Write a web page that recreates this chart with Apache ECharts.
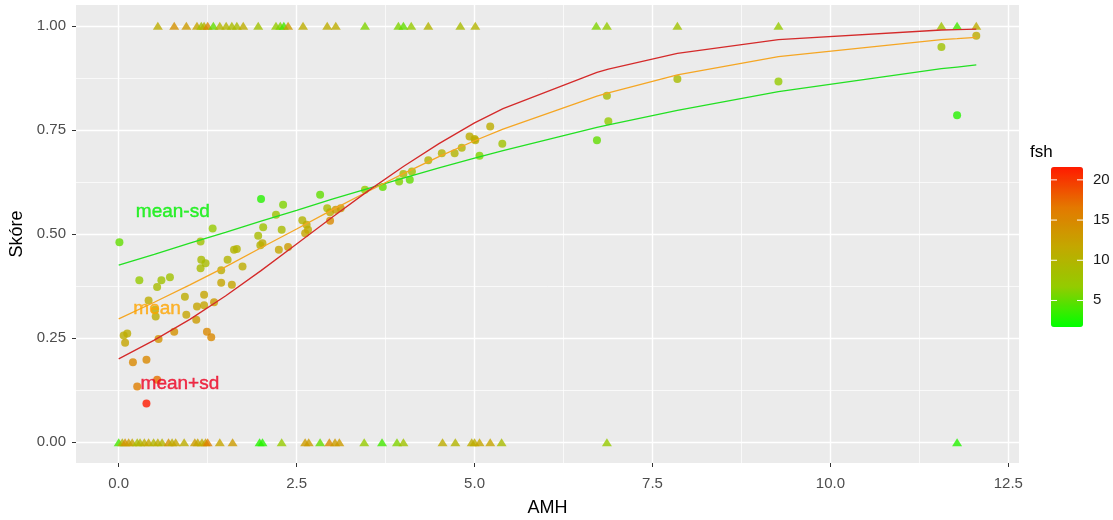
<!DOCTYPE html>
<html lang="en">
<head>
<meta charset="UTF-8">
<title>Skóre vs AMH</title>
<script src="https://cdn.jsdelivr.net/npm/echarts@6/dist/echarts.min.js"></script>
<style>
  html, body { margin: 0; padding: 0; background: #fff; }
  #chart { width: 1113px; height: 520px; }
</style>
</head>
<body>
<div id="chart"></div>
<script>
// circles: [AMH, Skore, fsh]
var dots = [
  [2.00,0.584,3],[0.01,0.480,5],[1.32,0.513,7],[2.03,0.516,8],[1.96,0.496,9],
  [1.15,0.482,8],[1.99,0.473,10],[2.02,0.478,11],[1.62,0.462,10],[1.66,0.464,10],
  [1.16,0.438,9],[1.22,0.430,9],[1.53,0.438,10],[1.15,0.418,9],[1.74,0.422,11],
  [1.44,0.413,11],[0.29,0.389,7],[0.60,0.389,8],[0.72,0.396,8],[0.54,0.373,9],
  [1.44,0.383,12],[1.59,0.378,12],[0.93,0.349,11],[1.20,0.354,12],[0.42,0.340,11],
  [1.10,0.326,12],[1.20,0.329,12],[1.34,0.336,13],[0.51,0.318,11],[0.52,0.302,11],
  [0.95,0.306,12],[1.09,0.294,13],[0.12,0.261,11],[0.07,0.256,11],[0.09,0.239,12],
  [0.56,0.248,14],[0.78,0.265,14],[1.24,0.265,15],[1.30,0.252,15],[0.20,0.192,15],
  [0.39,0.198,15],[0.26,0.134,16],[0.54,0.150,17],[0.39,0.093,21.6],
  [2.31,0.570,6],[2.83,0.594,5],[2.21,0.546,8],[2.29,0.510,9],[2.25,0.462,12],
  [2.38,0.469,13],[2.58,0.533,10],[2.64,0.522,11],[2.66,0.510,11],[2.62,0.502,12],
  [2.93,0.562,9],[2.97,0.552,11],[2.97,0.532,15],[3.05,0.558,13],[3.12,0.562,13],
  [3.46,0.606,7],[3.71,0.613,5],[3.94,0.626,6],[4.00,0.644,9],[4.09,0.630,5],
  [4.12,0.650,8],[4.35,0.677,10],[4.54,0.694,10],[4.72,0.694,10],[4.82,0.707,10],
  [5.01,0.725,11],[5.07,0.688,6],[5.39,0.717,8],[4.93,0.734,11],[5.00,0.728,11],
  [5.22,0.758,11],[6.72,0.725,5],[6.86,0.832,9],[6.88,0.771,7],[7.85,0.872,9],
  [9.27,0.866,7],[11.56,0.949,8],[11.78,0.785,3],[12.05,0.976,11]
];

// triangles at Skore = 1 and Skore = 0: AMH and fsh
var amhTop = [0.55,0.78,0.95,1.10,1.16,1.20,1.25,1.33,1.42,1.51,1.59,1.66,1.75,1.96,2.21,2.27,2.32,2.38,
  2.59,2.93,3.05,3.46,3.93,4.00,4.11,4.35,4.80,5.01,6.71,6.86,7.85,9.27,11.56,11.78,12.05];
var fshTop = [11,14,13,12,8,10,15,5,10,10,9,9,11,8,7,6,4,13,
  11,11,11,6,6,5,7,10,9,10,6,7,8,7,8,4,11];
var amhBottom = [0.00,0.05,0.09,0.14,0.19,0.26,0.30,0.36,0.42,0.49,0.55,0.61,0.70,0.75,0.80,0.92,1.07,1.11,
  1.17,1.22,1.25,1.42,1.60,1.98,2.02,2.29,2.62,2.67,2.83,2.96,3.04,3.10,3.45,3.70,3.91,4.00,
  4.55,4.73,4.96,5.00,5.07,5.22,5.38,6.86,11.78];
var fshBottom = [4,10,14,13,12,9,10,11,12,10,11,10,14,11,12,11,13,12,
  11,12,16,12,13,3,3,7,13,13,5,15,13,13,7,4,6,8,
  11,10,11,11,12,12,9,7,3];

// fitted curves
var lineX =         [0,    0.5,  1,    1.5,  2,    2.5,  3,    3.5,  4,    4.5,  5,    5.4,  6.72, 6.88, 7.85, 9.27, 11.56,11.78,12.05];
var lineMeanSd =    [0.425,0.451,0.478,0.504,0.531,0.557,0.584,0.609,0.634,0.659,0.682,0.700,0.756,0.762,0.797,0.842,0.897,0.901,0.906];
var lineMean =      [0.296,0.336,0.378,0.421,0.467,0.512,0.558,0.602,0.645,0.686,0.724,0.752,0.831,0.839,0.882,0.926,0.967,0.969,0.972];
var lineMeanPlusSd =[0.200,0.245,0.295,0.351,0.412,0.476,0.540,0.603,0.662,0.717,0.767,0.801,0.888,0.896,0.934,0.967,0.990,0.991,0.992];

var labelNames = ['mean-sd', 'mean', 'mean+sd'];
var labelX = [0.76, 0.54, 0.86];
var labelY = [0.554, 0.321, 0.141];
var labelColors = ['#00f000', '#ffa500', '#ee0022'];

var xTicks = [0, 2.5, 5, 7.5, 10, 12.5];
var xMinor = [1.25, 3.75, 6.25, 8.75, 11.25];
var yTicks = [0, 0.25, 0.5, 0.75, 1];
var yMinor = [0.125, 0.375, 0.625, 0.875];
var fshTicks = [5, 10, 15, 20];
var fshMin = 1.7, fshMax = 21.6;
var fshColors = ['#00ff00', '#93cc00', '#c3a800', '#e47800', '#ff1a00'];

function zip(xs, ys) { return xs.map(function (x, i) { return [x, ys[i]]; }); }

var triangles = amhTop.map(function (x, i) { return [x, 1, fshTop[i]]; })
  .concat(amhBottom.map(function (x, i) { return [x, 0, fshBottom[i]]; }));

var bar = { left: 1051, top: 167, w: 32, h: 160 };
var legendGraphics = [{
  type: 'text', left: 1030, top: 144,
  style: { text: 'fsh', fill: '#000', font: '17px "Liberation Sans", Arial, sans-serif' }
}];
fshTicks.forEach(function (v) {
  var y = bar.top + (fshMax - v) / (fshMax - fshMin) * bar.h;
  legendGraphics.push({ type: 'text', left: 1093, top: y - 8,
    style: { text: String(v), fill: '#1a1a1a', font: '15px "Liberation Sans", Arial, sans-serif' } });
  legendGraphics.push({ type: 'line', z: 100, shape: { x1: bar.left, y1: y, x2: bar.left + 6, y2: y },
    style: { stroke: '#fff', lineWidth: 1 } });
  legendGraphics.push({ type: 'line', z: 100, shape: { x1: bar.left + bar.w - 6, y1: y, x2: bar.left + bar.w, y2: y },
    style: { stroke: '#fff', lineWidth: 1 } });
});

var chart = echarts.init(document.getElementById('chart'));
var font = '"Liberation Sans", Arial, sans-serif';

var option = {
  animation: false,
  textStyle: { fontFamily: font },
  grid: { left: 76, right: 94, top: 5, bottom: 57, show: true, backgroundColor: '#ebebeb', borderWidth: 0,
    outerBoundsMode: 'none', containLabel: false },
  xAxis: [{
    type: 'value', min: -0.6, max: 12.65,
    name: 'AMH', nameLocation: 'middle', nameGap: 36,
    nameTextStyle: { color: '#000', fontSize: 18 },
    axisLine: { show: false, onZero: false },
    axisTick: { show: true, length: 4, lineStyle: { color: '#333' }, customValues: xTicks },
    axisLabel: { customValues: xTicks, color: '#4d4d4d', fontSize: 15, margin: 13,
      formatter: function (v) { return v.toFixed(1); } },
    splitLine: { show: true, lineStyle: { color: '#fff', width: 1.4 } }
  }, {
    type: 'value', min: -0.6, max: 12.65, position: 'bottom',
    axisLine: { show: false, onZero: false }, axisLabel: { show: false },
    axisTick: { show: false, customValues: xMinor },
    splitLine: { show: true, lineStyle: { color: '#fff', width: 0.7 } }
  }],
  yAxis: [{
    type: 'value', min: -0.05, max: 1.05,
    name: 'Skóre', nameLocation: 'middle', nameGap: 50,
    nameTextStyle: { color: '#000', fontSize: 18 },
    axisLine: { show: false, onZero: false },
    axisTick: { show: true, length: 4, lineStyle: { color: '#333' }, customValues: yTicks },
    axisLabel: { customValues: yTicks, color: '#4d4d4d', fontSize: 15, margin: 10,
      formatter: function (v) { return v.toFixed(2); } },
    splitLine: { show: true, lineStyle: { color: '#fff', width: 1.4 } }
  }, {
    type: 'value', min: -0.05, max: 1.05, position: 'left',
    axisLine: { show: false, onZero: false }, axisLabel: { show: false },
    axisTick: { show: false, customValues: yMinor },
    splitLine: { show: true, lineStyle: { color: '#fff', width: 0.7 } }
  }],
  visualMap: {
    type: 'continuous', min: fshMin, max: fshMax, dimension: 2, seriesIndex: [0, 1],
    inRange: { color: fshColors },
    left: bar.left, top: bar.top, itemWidth: bar.w, itemHeight: bar.h,
    padding: 0, calculable: false, text: null, hoverLink: false
  },
  graphic: legendGraphics,
  series: [{
    name: 'dots', type: 'scatter', symbol: 'circle', symbolSize: 8, data: dots, z: 2
  }, {
    name: 'triangles', type: 'scatter', symbol: 'triangle', symbolSize: [10, 8], data: triangles, z: 2
  }, {
    name: 'mean-sd', type: 'line', data: zip(lineX, lineMeanSd), showSymbol: false, z: 3,
    lineStyle: { color: '#22e022', width: 1.3 }
  }, {
    name: 'mean', type: 'line', data: zip(lineX, lineMean), showSymbol: false, z: 3,
    lineStyle: { color: '#f5a623', width: 1.3 }
  }, {
    name: 'mean+sd', type: 'line', data: zip(lineX, lineMeanPlusSd), showSymbol: false, z: 3,
    lineStyle: { color: '#d42a2a', width: 1.3 }
  }, {
    name: 'labels', type: 'scatter', symbolSize: 1, z: 4, silent: true,
    itemStyle: { color: 'rgba(0,0,0,0)' },
    data: labelNames.map(function (n, i) {
      return { value: [labelX[i], labelY[i]],
        label: { show: true, position: 'inside', formatter: n, color: labelColors[i],
          fontSize: 19, textBorderColor: labelColors[i], textBorderWidth: 0.4 } };
    })
  }]
};
chart.setOption(option);
</script>
</body>
</html>
